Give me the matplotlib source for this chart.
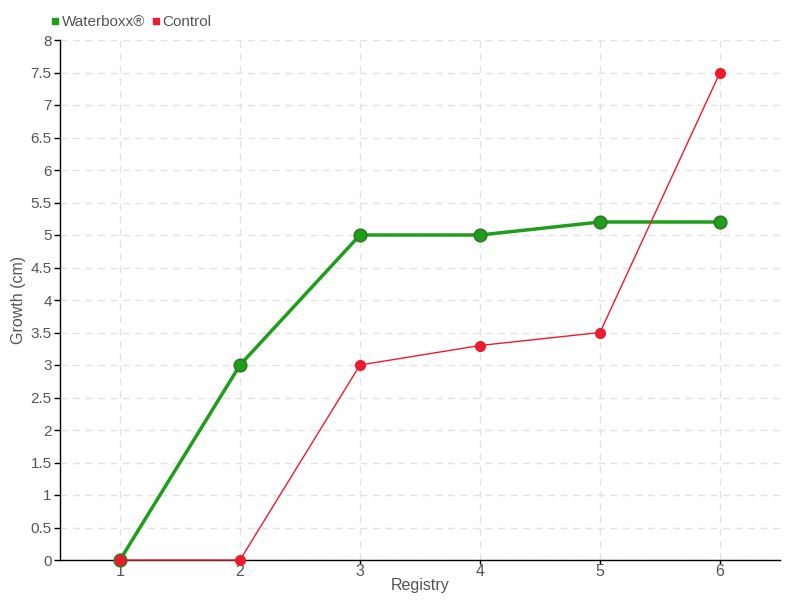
import matplotlib
matplotlib.use("Agg")
import matplotlib.pyplot as plt
from matplotlib.lines import Line2D
import numpy as np

plt.rcParams["font.family"] = ["Liberation Sans", "DejaVu Sans"]

registry = [1, 2, 3, 4, 5, 6]
waterboxx = [0, 3, 5, 5, 5.2, 5.2]
control = [0, 0, 3, 3.3, 3.5, 7.5]

green = "#1e9e1a"
red = "#ec1c2c"
text_col = "#555555"

fig = plt.figure(figsize=(8, 6), dpi=100)
ax = fig.add_axes([60 / 800, 40 / 600, 720 / 800, 520 / 600])

ax.plot(registry, waterboxx, color=green, lw=2.5, marker="o", ms=9,
        markerfacecolor=green, markeredgecolor="#2f7a25", markeredgewidth=1.2,
        zorder=3, clip_on=False)
ax.plot(registry, control, color=red, lw=1, marker="o", ms=7,
        markerfacecolor=red, markeredgecolor=red, zorder=4, clip_on=False)

ax.set_xlim(0.5, 6.5)
ax.set_ylim(0, 8)
ax.set_xticks(registry)
ax.set_yticks(np.arange(0, 8.01, 0.5))
ax.set_yticklabels([f"{v:g}" for v in np.arange(0, 8.01, 0.5)])

ax.grid(True, color="#e3e3e3", linestyle=(0, (5, 4)), lw=1)
ax.set_axisbelow(True)
for s in ["top", "right"]:
    ax.spines[s].set_visible(False)
for s in ["left", "bottom"]:
    ax.spines[s].set_color("black")
    ax.spines[s].set_linewidth(1)

ax.tick_params(axis="y", length=4, width=1, colors="black", labelcolor=text_col, labelsize=11, pad=2)
ax.tick_params(axis="x", length=3, width=1, colors="black", labelcolor=text_col, labelsize=11.5, pad=0)

ax.set_xlabel("Registry", color=text_col, fontsize=11.5, labelpad=-1)
ax.set_ylabel("Growth (cm)", color=text_col, fontsize=11.5)
ax.yaxis.set_label_coords(-34 / 720, 0.5)

handles = [
    Line2D([], [], color=green, marker="s", linestyle="none", ms=5, label="Waterboxx®"),
    Line2D([], [], color=red, marker="s", linestyle="none", ms=5, label="Control"),
]
leg = fig.legend(handles=handles, loc="center left", bbox_to_anchor=(44 / 800, 1 - 22 / 600),
                 ncol=2, frameon=False, fontsize=11, handlelength=0.5, handletextpad=0.2,
                 columnspacing=0.4, borderpad=0)
for t in leg.get_texts():
    t.set_color(text_col)

fig.savefig("out.png", dpi=100)
